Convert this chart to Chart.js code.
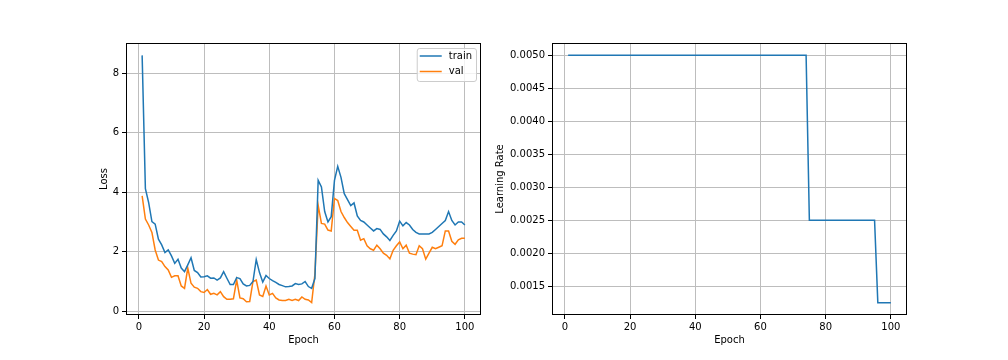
<!DOCTYPE html>
<html>
<head>
<meta charset="utf-8">
<script src="https://cdn.jsdelivr.net/npm/chart.js@4.4.1/dist/chart.umd.min.js"></script>
<style>
  body { margin: 0; background: #fff; }
  .box { position: absolute; top: 0; height: 360px; }
</style>
</head>
<body>
<div class="box" style="left:0; width:488px;"><canvas id="loss" width="488" height="360"></canvas></div>
<div class="box" style="left:488px; width:520px;"><canvas id="lr" width="520" height="360"></canvas></div>
<script>
// epochs 1..100
const epochs = [1,2,3,4,5,6,7,8,9,10,11,12,13,14,15,16,17,18,19,20,
  21,22,23,24,25,26,27,28,29,30,31,32,33,34,35,36,37,38,39,40,
  41,42,43,44,45,46,47,48,49,50,51,52,53,54,55,56,57,58,59,60,
  61,62,63,64,65,66,67,68,69,70,71,72,73,74,75,76,77,78,79,80,
  81,82,83,84,85,86,87,88,89,90,91,92,93,94,95,96,97,98,99,100];

const trainLoss = [8.6, 4.12, 3.65, 3.01, 2.93, 2.42, 2.23, 1.97, 2.06, 1.86,
  1.61, 1.75, 1.45, 1.33, 1.56, 1.8, 1.37, 1.3, 1.15, 1.16,
  1.19, 1.11, 1.12, 1.05, 1.12, 1.33, 1.11, 0.9, 0.9, 1.13,
  1.1, 0.92, 0.85, 0.87, 1.0, 1.74, 1.3, 0.98, 1.2, 1.1,
  1.03, 0.97, 0.9, 0.86, 0.82, 0.83, 0.85, 0.93, 0.9, 0.92,
  1.0, 0.83, 0.77, 1.1, 4.4, 4.18, 3.35, 3.0, 3.18, 4.4,
  4.87, 4.5, 3.95, 3.75, 3.55, 3.64, 3.2, 3.05, 3.0, 2.9,
  2.8, 2.7, 2.78, 2.75, 2.6, 2.5, 2.38, 2.55, 2.7, 3.03,
  2.87, 2.98, 2.9, 2.75, 2.65, 2.6, 2.6, 2.6, 2.6, 2.65,
  2.75, 2.85, 2.95, 3.05, 3.35, 3.05, 2.9, 3.0, 3.0, 2.9];

const valLoss = [3.88, 3.1, 2.9, 2.65, 2.06, 1.72, 1.67, 1.5, 1.39, 1.14,
  1.19, 1.19, 0.85, 0.77, 1.45, 0.94, 0.81, 0.77, 0.66, 0.63,
  0.73, 0.57, 0.6, 0.55, 0.66, 0.49, 0.4, 0.4, 0.42, 1.05,
  0.45, 0.42, 0.32, 0.33, 1.0, 1.05, 0.55, 0.5, 0.85, 0.55,
  0.6, 0.45, 0.38, 0.36, 0.36, 0.4, 0.36, 0.4, 0.36, 0.48,
  0.4, 0.38, 0.29, 1.25, 3.56, 2.95, 2.93, 2.73, 2.7, 3.79,
  3.72, 3.35, 3.15, 2.98, 2.85, 2.72, 2.72, 2.39, 2.44, 2.2,
  2.1, 2.05, 2.22, 2.1, 1.95, 1.88, 1.76, 2.05, 2.2, 2.33,
  2.1, 2.22, 1.95, 1.92, 1.9, 2.2, 2.1, 1.75, 1.95, 2.15,
  2.1, 2.15, 2.2, 2.7, 2.7, 2.35, 2.25, 2.4, 2.45, 2.45];

const learningRate = [
  0.005, 0.005, 0.005, 0.005, 0.005, 0.005, 0.005, 0.005, 0.005, 0.005,
  0.005, 0.005, 0.005, 0.005, 0.005, 0.005, 0.005, 0.005, 0.005, 0.005,
  0.005, 0.005, 0.005, 0.005, 0.005, 0.005, 0.005, 0.005, 0.005, 0.005,
  0.005, 0.005, 0.005, 0.005, 0.005, 0.005, 0.005, 0.005, 0.005, 0.005,
  0.005, 0.005, 0.005, 0.005, 0.005, 0.005, 0.005, 0.005, 0.005, 0.005,
  0.005, 0.005, 0.005, 0.005, 0.005, 0.005, 0.005, 0.005, 0.005, 0.005,
  0.005, 0.005, 0.005, 0.005, 0.005, 0.005, 0.005, 0.005, 0.005, 0.005,
  0.005, 0.005, 0.005, 0.005, 0.0025, 0.0025, 0.0025, 0.0025, 0.0025, 0.0025,
  0.0025, 0.0025, 0.0025, 0.0025, 0.0025, 0.0025, 0.0025, 0.0025, 0.0025, 0.0025,
  0.0025, 0.0025, 0.0025, 0.0025, 0.0025, 0.00125, 0.00125, 0.00125, 0.00125, 0.00125];

const epochTicks = [0, 20, 40, 60, 80, 100];
const lossTicks = [0, 2, 4, 6, 8];
const lrTicks = [0.0015, 0.002, 0.0025, 0.003, 0.0035, 0.004, 0.0045, 0.005];

Chart.defaults.font.family = 'DejaVu Sans';
Chart.defaults.font.size = 10;
Chart.defaults.color = '#000';

const toPoints = (ys) => epochs.map((e, i) => ({ x: e, y: ys[i] }));

// black frame round the plot area, like matplotlib spines
const framePlugin = {
  id: 'frame',
  afterDatasetsDraw(chart) {
    const { ctx, chartArea: a } = chart;
    ctx.save();
    ctx.strokeStyle = '#000';
    ctx.lineWidth = 1;
    ctx.strokeRect(Math.round(a.left) + 0.5, Math.round(a.top) + 0.5,
      Math.round(a.right - a.left) - 1, Math.round(a.bottom - a.top) - 1);
    ctx.restore();
  }
};

// legend box in the upper right corner of the plot
const boxLegend = {
  id: 'boxLegend',
  afterDraw(chart) {
    const { ctx, chartArea: a } = chart;
    const sets = chart.data.datasets;
    ctx.save();
    ctx.font = '10px DejaVu Sans';
    const textW = Math.max(...sets.map(d => ctx.measureText(d.label).width));
    const w = 3 + 22 + 7 + textW + 4;
    const h = 33;
    const x = a.right - 5 - w, y = a.top + 5;
    ctx.beginPath();
    ctx.roundRect(x + 0.5, y + 0.5, w, h, 2.5);
    ctx.fillStyle = 'rgba(255,255,255,0.8)';
    ctx.fill();
    ctx.strokeStyle = '#cccccc';
    ctx.lineWidth = 1;
    ctx.stroke();
    sets.forEach((d, i) => {
      const cy = y + 8 + i * 15.5;
      ctx.beginPath();
      ctx.moveTo(x + 3, cy);
      ctx.lineTo(x + 25, cy);
      ctx.strokeStyle = d.borderColor;
      ctx.lineWidth = 1.5;
      ctx.stroke();
      ctx.fillStyle = '#000';
      ctx.textBaseline = 'middle';
      ctx.fillText(d.label, x + 32, cy);
    });
    ctx.restore();
  }
};

function axisX(fitHeight) {
  return {
    type: 'linear',
    min: -3.95,
    max: 104.95,
    afterBuildTicks: s => { s.ticks = epochTicks.map(v => ({ value: v })); },
    afterFit: s => { s.height = fitHeight; },
    ticks: { autoSkip: false, maxRotation: 0, padding: 2 },
    grid: { color: '#bdbdbd', lineWidth: 1, drawTicks: true, tickLength: 4, tickColor: '#000', tickWidth: 1 },
    border: { display: false },
    title: { display: true, text: 'Epoch', padding: 0 }
  };
}

function axisY(min, max, tickList, fitWidth, title, fmt) {
  return {
    type: 'linear',
    min: min,
    max: max,
    afterBuildTicks: s => { s.ticks = tickList.map(v => ({ value: v })); },
    afterFit: s => { s.width = fitWidth; },
    ticks: { autoSkip: false, padding: 3, callback: fmt },
    grid: { color: '#bdbdbd', lineWidth: 1, drawTicks: true, tickLength: 4, tickColor: '#000', tickWidth: 1 },
    border: { display: false },
    title: { display: true, text: title, padding: 0 }
  };
}

new Chart(document.getElementById('loss').getContext('2d'), {
  type: 'line',
  data: {
    datasets: [
      { label: 'train', data: toPoints(trainLoss), borderColor: '#1f77b4', borderWidth: 1.5, pointRadius: 0, tension: 0 },
      { label: 'val', data: toPoints(valLoss), borderColor: '#ff7f0e', borderWidth: 1.5, pointRadius: 0, tension: 0 }
    ]
  },
  options: {
    responsive: false,
    devicePixelRatio: 1,
    animation: false,
    layout: { padding: { left: 98, right: 7, top: 43, bottom: 14 } },
    plugins: { legend: { display: false }, tooltip: { enabled: false } },
    scales: {
      x: axisX(31),
      y: axisY(-0.126, 9.016, lossTicks, 28, 'Loss', v => String(v))
    }
  },
  plugins: [framePlugin, boxLegend]
});

new Chart(document.getElementById('lr').getContext('2d'), {
  type: 'line',
  data: {
    datasets: [
      { label: 'lr', data: toPoints(learningRate), borderColor: '#1f77b4', borderWidth: 1.5, pointRadius: 0, tension: 0 }
    ]
  },
  options: {
    responsive: false,
    devicePixelRatio: 1,
    animation: false,
    layout: { padding: { left: 6, right: 101, top: 43, bottom: 14 } },
    plugins: { legend: { display: false }, tooltip: { enabled: false } },
    scales: {
      x: axisX(31),
      y: axisY(0.0010625, 0.0051875, lrTicks, 58, 'Learning Rate', v => v.toFixed(4))
    }
  },
  plugins: [framePlugin]
});
</script>
</body>
</html>
